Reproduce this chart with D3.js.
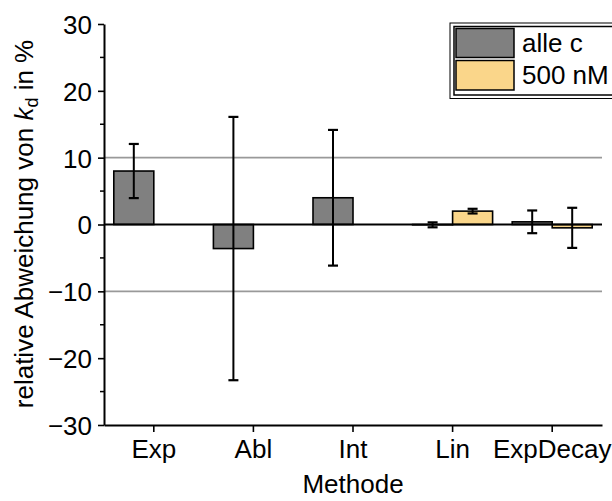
<!DOCTYPE html>
<html>
<head>
<meta charset="utf-8">
<script src="https://cdn.jsdelivr.net/npm/d3@7"></script>
<style>
  body { margin: 0; background: #fff; }
  text { font-family: "Liberation Sans", Arial, sans-serif; fill: #000; }
</style>
</head>
<body>
<script>
// data
var categories = ["Exp", "Abl", "Int", "Lin", "ExpDecay"];
var seriesNames = ["alle c", "500 nM"];
var alleC = [8.0, -3.6, 4.0, -0.05, 0.4];
var alleCErr = [4.05, 19.7, 10.15, 0.37, 1.7];
var nM500 = [null, null, null, 2.0, -0.5];
var nM500Err = [null, null, null, 0.35, 3.0];
var yTicks = [-30, -20, -10, 0, 10, 20, 30];
var yMinor = [-25, -15, -5, 5, 15, 25];
var gridVals = [-10, 10];

var colors = ["#808080", "#fad68a"];

var svg = d3.select("body")
    .append("svg")
    .attr("width", 612)
    .attr("height", 501);

var x = d3.scaleBand()
    .domain(categories)
    .range([104, 602]);

var xSub = d3.scaleBand()
    .domain(seriesNames)
    .range([-40, 40]);

var y = d3.scaleLinear()
    .domain([-30, 30])
    .range([425, 24]);

// grid lines at +-10
svg.selectAll(".grid")
    .data(gridVals)
    .enter().append("line")
    .attr("x1", 104).attr("x2", 602)
    .attr("y1", d => y(d)).attr("y2", d => y(d))
    .attr("stroke", "#999")
    .attr("stroke-width", 1.8);

// build rows
var rows = [];
categories.forEach(function (c, i) {
    rows.push({cat: c, s: 0, v: alleC[i], e: alleCErr[i]});
    if (nM500[i] != null) rows.push({cat: c, s: 1, v: nM500[i], e: nM500Err[i]});
});

svg.selectAll(".bar")
    .data(rows)
    .enter().append("rect")
    .attr("x", d => x(d.cat) + x.bandwidth() / 2 + xSub(seriesNames[d.s]))
    .attr("width", xSub.bandwidth())
    .attr("y", d => y(Math.max(0, d.v)))
    .attr("height", d => Math.abs(y(d.v) - y(0)))
    .attr("fill", d => colors[d.s])
    .attr("stroke", "#000")
    .attr("stroke-width", 1.6);

// zero line
svg.append("line")
    .attr("x1", 104).attr("x2", 602)
    .attr("y1", y(0)).attr("y2", y(0))
    .attr("stroke", "#000")
    .attr("stroke-width", 2);

// error bars
var eb = svg.selectAll(".err")
    .data(rows)
    .enter().append("g")
    .attr("transform", d => "translate(" + (x(d.cat) + x.bandwidth() / 2 + xSub(seriesNames[d.s]) + xSub.bandwidth() / 2) + ",0)");

eb.append("line")
    .attr("y1", d => y(d.v + d.e)).attr("y2", d => y(d.v - d.e))
    .attr("stroke", "#000").attr("stroke-width", 2);
eb.append("line")
    .attr("x1", -5).attr("x2", 5)
    .attr("y1", d => y(d.v + d.e)).attr("y2", d => y(d.v + d.e))
    .attr("stroke", "#000").attr("stroke-width", 2.2);
eb.append("line")
    .attr("x1", -5).attr("x2", 5)
    .attr("y1", d => y(d.v - d.e)).attr("y2", d => y(d.v - d.e))
    .attr("stroke", "#000").attr("stroke-width", 2.2);

// y axis
var yAxis = svg.append("g")
    .attr("transform", "translate(104,0)")
    .call(d3.axisLeft(y).tickValues(yTicks).tickSize(6).tickSizeOuter(0).tickPadding(6));
yAxis.select(".domain").attr("stroke-width", 2);
yAxis.selectAll(".tick line").attr("stroke-width", 1.6);
yAxis.selectAll(".tick text").attr("font-size", 26).attr("dy", "0.36em");

svg.selectAll(".minor")
    .data(yMinor)
    .enter().append("line")
    .attr("x1", 100).attr("x2", 104)
    .attr("y1", d => y(d)).attr("y2", d => y(d))
    .attr("stroke", "#000").attr("stroke-width", 1.5);

// x axis
var xAxis = svg.append("g")
    .attr("transform", "translate(0,425)")
    .call(d3.axisBottom(x).tickSize(7).tickSizeOuter(0).tickPadding(8));
xAxis.select(".domain").attr("stroke-width", 2);
xAxis.selectAll(".tick line").attr("stroke-width", 1.6);
xAxis.selectAll(".tick text").attr("font-size", 26).attr("dy", "0.71em");

svg.append("text")
    .attr("x", 353).attr("y", 493)
    .attr("text-anchor", "middle")
    .attr("font-size", 26)
    .text("Methode");

var yt = svg.append("text")
    .attr("transform", "translate(33,224) rotate(-90)")
    .attr("text-anchor", "middle")
    .attr("font-size", 26);
yt.append("tspan").text("relative Abweichung von ");
yt.append("tspan").attr("font-style", "italic").text("k");
yt.append("tspan").attr("font-size", 18).attr("dy", 5).text("d");
yt.append("tspan").attr("dy", -5).text(" in %");

// legend
var lg = svg.append("g");
lg.append("rect")
    .attr("x", 450).attr("y", 23).attr("width", 200).attr("height", 75.5)
    .attr("fill", "#fff").attr("stroke", "#000").attr("stroke-width", 1);
lg.append("rect")
    .attr("x", 454).attr("y", 26.5).attr("width", 200).attr("height", 68.5)
    .attr("fill", "none").attr("stroke", "#000").attr("stroke-width", 1.5);

lg.selectAll(".sw")
    .data(seriesNames)
    .enter().append("rect")
    .attr("x", 456)
    .attr("y", (d, i) => 28.5 + i * 32)
    .attr("width", 58)
    .attr("height", (d, i) => i == 0 ? 29 : 29.5)
    .attr("fill", (d, i) => colors[i])
    .attr("stroke", "#000").attr("stroke-width", 1.5);

lg.selectAll(".lt")
    .data(seriesNames)
    .enter().append("text")
    .attr("x", 522)
    .attr("y", (d, i) => 52 + i * 31.5)
    .attr("font-size", 26)
    .text(d => d);
</script>
</body>
</html>
